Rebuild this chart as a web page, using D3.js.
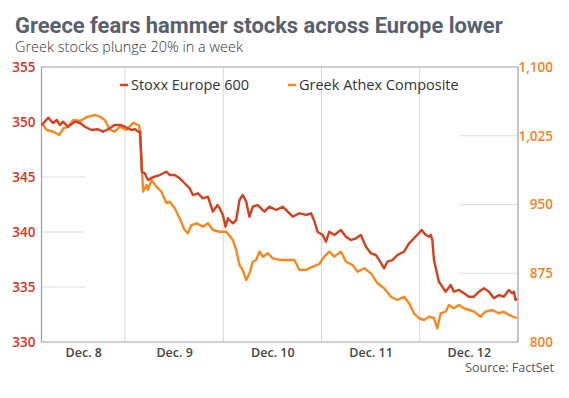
<!DOCTYPE html>
<html>
<head>
<meta charset="utf-8">
<script src="https://cdn.jsdelivr.net/npm/d3@7"></script>
<style>
  body { margin: 0; background: #fff; }
  svg { display: block; }
</style>
</head>
<body>
<div id="container"></div>
<script>
var WIDTH = 569,
	HEIGHT = 398,
	LEFT = 41.5,
	RIGHT = 518,
	TOP = 67,
	BOTTOM = 342;

// x positions are in trading-day units (Dec. 8 = 0..1, Dec. 9 = 1..2, ...)
var dayLabels = ['Dec. 8', 'Dec. 9', 'Dec. 10', 'Dec. 11', 'Dec. 12'];
var dayLabelPos = [0.575, 1.5, 2.5, 3.5, 4.5];
var dayGrid = [1, 2, 3, 4];

var stoxxTicks = [330, 335, 340, 345, 350, 355];
var athexTicks = [800, 875, 950, 1025, 1100];

var stoxxTime = [0.152, 0.219, 0.267, 0.305, 0.338, 0.369, 0.419, 0.490, 0.541, 0.592,
	0.660, 0.724, 0.775, 0.812, 0.846, 0.896, 0.947, 0.998, 1.066, 1.099,
	1.133, 1.155, 1.171, 1.201, 1.235, 1.269, 1.303, 1.354, 1.421, 1.455,
	1.506, 1.556, 1.607, 1.658, 1.691, 1.742, 1.793, 1.844, 1.894, 1.942,
	1.962, 1.996, 2.023, 2.047, 2.097, 2.132, 2.165, 2.199, 2.234, 2.267,
	2.301, 2.351, 2.419, 2.470, 2.538, 2.605, 2.656, 2.707, 2.775, 2.843,
	2.893, 2.927, 2.960, 3.011, 3.046, 3.079, 3.130, 3.198, 3.249, 3.299,
	3.350, 3.401, 3.452, 3.503, 3.553, 3.587, 3.638, 3.671, 3.722, 3.773,
	3.840, 3.891, 3.942, 4.020, 4.061, 4.094, 4.112, 4.128, 4.145, 4.195,
	4.229, 4.264, 4.315, 4.348, 4.399, 4.450, 4.501, 4.552, 4.602, 4.653,
	4.704, 4.755, 4.806, 4.856, 4.907, 4.940, 4.958, 4.975, 4.988];
var stoxxValues = [349.73, 350.39, 349.91, 350.18, 349.73, 350.03, 349.57, 350.03, 349.91, 349.57,
	349.27, 349.34, 349.12, 349.27, 349.43, 349.73, 349.73, 349.57, 349.27, 349.36,
	349.12, 349.09, 345.48, 345.34, 344.73, 344.91, 345.03, 345.18, 345.48, 345.18,
	345.18, 344.88, 344.43, 343.97, 343.36, 343.52, 343.06, 343.21, 341.85, 342.45,
	342.18, 341.55, 340.48, 341.25, 340.79, 341.09, 342.91, 343.36, 342.75, 341.39,
	342.30, 342.45, 341.85, 342.30, 342.00, 342.30, 341.85, 341.39, 341.70, 341.55,
	341.70, 341.00, 340.03, 339.73, 339.12, 340.03, 339.73, 340.18, 339.57, 339.27,
	339.43, 339.73, 338.66, 338.06, 337.91, 337.45, 336.70, 337.30, 337.45, 337.91,
	338.21, 338.97, 339.43, 340.18, 339.73, 339.57, 339.73, 339.27, 337.45, 335.48,
	335.03, 334.57, 335.18, 334.57, 334.73, 334.43, 334.12, 334.12, 334.57, 334.88,
	334.57, 333.97, 334.27, 334.12, 334.73, 334.43, 334.57, 333.82, 334.00];

var athexTime = [0.152, 0.203, 0.270, 0.331, 0.372, 0.422, 0.473, 0.541, 0.625, 0.693,
	0.744, 0.795, 0.846, 0.896, 0.947, 1.015, 1.082, 1.145, 1.168, 1.184,
	1.218, 1.234, 1.269, 1.320, 1.371, 1.421, 1.455, 1.506, 1.556, 1.607,
	1.641, 1.675, 1.726, 1.793, 1.844, 1.894, 1.962, 2.030, 2.057, 2.097,
	2.132, 2.165, 2.199, 2.234, 2.267, 2.301, 2.335, 2.368, 2.402, 2.453,
	2.504, 2.572, 2.640, 2.724, 2.775, 2.843, 2.910, 2.978, 3.028, 3.079,
	3.130, 3.198, 3.249, 3.316, 3.367, 3.435, 3.503, 3.570, 3.638, 3.706,
	3.773, 3.840, 3.891, 3.942, 3.992, 4.043, 4.094, 4.145, 4.179, 4.213,
	4.264, 4.297, 4.348, 4.399, 4.450, 4.501, 4.552, 4.619, 4.670, 4.738,
	4.806, 4.856, 4.907, 4.988];
var athexValues = [1038.6, 1031.3, 1029.4, 1025.8, 1033.1, 1034.9, 1042.2, 1041.1, 1045.8, 1047.6,
	1045.8, 1042.2, 1031.3, 1029.4, 1034.9, 1031.3, 1039.2, 1036.2, 998.5, 964.0,
	971.3, 965.8, 976.7, 969.4, 964.0, 951.6, 953.1, 945.9, 934.9, 922.2,
	918.6, 927.6, 929.5, 925.8, 929.5, 922.2, 920.3, 920.3, 916.7, 911.3,
	900.4, 884.0, 878.5, 867.5, 874.9, 887.6, 889.5, 898.5, 893.1, 896.8,
	891.3, 889.5, 889.5, 889.5, 878.5, 878.5, 882.2, 885.1, 893.1, 898.5,
	893.1, 898.5, 887.6, 884.0, 876.7, 880.4, 874.9, 864.0, 858.6, 849.4,
	845.8, 849.4, 842.2, 831.3, 825.9, 824.0, 827.6, 825.9, 814.9, 831.3,
	833.1, 840.4, 836.8, 840.4, 836.8, 834.9, 833.1, 827.6, 833.1, 834.9,
	831.3, 833.1, 829.5, 825.9];

var STOXX_COLOR = '#d2401f',
	ATHEX_COLOR = '#f7881f';

var xScale = d3.scaleLinear().domain([0.15, 5]).range([LEFT, RIGHT]);
var yLeft = d3.scaleLinear().domain([330, 355]).range([BOTTOM, TOP]);
var yRight = d3.scaleLinear().domain([800, 1100]).range([BOTTOM, TOP]);

var translate = function (x, y) {
	return 'translate(' + x + ',' + y + ')';
};

function fitText(sel, width) {
	var node = sel.node();
	var size = parseFloat(sel.attr('font-size'));
	var len = node.getComputedTextLength();
	sel.attr('font-size', (size * width / len).toFixed(2));
}

function drawTitles(svg) {
	var t = svg.append('text')
		.attr('x', 15).attr('y', 33)
		.attr('font-family', 'Roboto, sans-serif')
		.attr('font-weight', 700)
		.attr('font-size', 22)
		.attr('fill', '#58606d')
		.text('Greece fears hammer stocks across Europe lower');
	fitText(t, 488);
	var s = svg.append('text')
		.attr('x', 15).attr('y', 52)
		.attr('font-family', '"Open Sans", sans-serif')
		.attr('font-weight', 300)
		.attr('font-size', 15)
		.attr('fill', '#333')
		.text('Greek stocks plunge 20% in a week');
	fitText(s, 228);
	svg.append('text')
		.attr('x', 554).attr('y', 372)
		.attr('text-anchor', 'end')
		.attr('font-family', '"Open Sans", sans-serif')
		.attr('font-size', 12.5)
		.attr('fill', '#555')
		.text('Source: FactSet');
}

function drawGrid(svg) {
	svg.append('g').selectAll('line').data(dayGrid).enter()
		.append('line')
		.attr('x1', function (d) { return xScale(d); })
		.attr('x2', function (d) { return xScale(d); })
		.attr('y1', TOP).attr('y2', BOTTOM)
		.attr('stroke', '#d4d6da').attr('stroke-width', 1);
	svg.append('g').selectAll('line').data(stoxxTicks.slice(1, -1)).enter()
		.append('line')
		.attr('x1', LEFT).attr('x2', 85)
		.attr('y1', function (d) { return yLeft(d); })
		.attr('y2', function (d) { return yLeft(d); })
		.attr('stroke', '#dcdde0');
	svg.append('g').selectAll('line').data(athexTicks.slice(1, -1)).enter()
		.append('line')
		.attr('x1', 459).attr('x2', RIGHT)
		.attr('y1', function (d) { return yRight(d); })
		.attr('y2', function (d) { return yRight(d); })
		.attr('stroke', '#dcdde0');
	// frame
	svg.append('path')
		.attr('d', 'M' + LEFT + ',' + TOP + 'H' + RIGHT + 'V' + BOTTOM + 'H' + LEFT + 'Z')
		.attr('fill', 'none')
		.attr('stroke', '#9a9ea6')
		.attr('stroke-width', 1.2);
}

function drawAxis(svg) {
	var left = d3.axisLeft(yLeft).tickValues(stoxxTicks).tickSize(0).tickPadding(6);
	var gl = svg.append('g').attr('transform', translate(LEFT, 0)).call(left);
	var right = d3.axisRight(yRight).tickValues(athexTicks).tickSize(0).tickPadding(35)
		.tickFormat(d3.format(','));
	var gr = svg.append('g').attr('transform', translate(RIGHT, 0)).call(right);
	gr.selectAll('text').attr('text-anchor', 'end');
	var bottom = d3.axisBottom(xScale).tickValues(dayLabelPos).tickSize(0).tickPadding(6)
		.tickFormat(function (d, i) { return dayLabels[i]; });
	var gb = svg.append('g').attr('transform', translate(0, BOTTOM)).call(bottom);

	[gl, gr, gb].forEach(function (g) {
		g.select('.domain').remove();
		g.selectAll('text')
			.attr('font-family', '"Open Sans", sans-serif')
			.attr('font-weight', 600)
			.attr('font-size', 13.5);
	});
	gl.selectAll('text').attr('fill', '#d9321c');
	gr.selectAll('text').attr('fill', '#f5821f');
	gb.selectAll('text').attr('fill', '#444').attr('font-size', 12.5);
}

function drawLines(svg) {
	var stoxx = stoxxTime.map(function (t, i) { return [t, stoxxValues[i]]; });
	var athex = athexTime.map(function (t, i) { return [t, athexValues[i]]; });
	var line = function (yScale) {
		return d3.line()
			.x(function (d) { return xScale(d[0]); })
			.y(function (d) { return yScale(d[1]); });
	};
	svg.append('path')
		.attr('d', line(yRight)(athex))
		.attr('fill', 'none')
		.attr('stroke', ATHEX_COLOR)
		.attr('stroke-width', 2.4)
		.attr('stroke-linejoin', 'round');
	svg.append('path')
		.attr('d', line(yLeft)(stoxx))
		.attr('fill', 'none')
		.attr('stroke', STOXX_COLOR)
		.attr('stroke-width', 2.4)
		.attr('stroke-linejoin', 'round');
}

function drawLegend(svg) {
	var items = [
		{ name: 'Stoxx Europe 600', color: STOXX_COLOR, x: 120 },
		{ name: 'Greek Athex Composite', color: ATHEX_COLOR, x: 288 }
	];
	var g = svg.append('g').selectAll('g').data(items).enter()
		.append('g')
		.attr('transform', function (d) { return translate(d.x, 85); });
	g.append('line')
		.attr('x1', 0).attr('x2', 8)
		.attr('stroke', function (d) { return d.color; })
		.attr('stroke-width', 2.5);
	g.append('text')
		.attr('x', 11).attr('dy', '0.35em')
		.attr('font-family', '"Open Sans", sans-serif')
		.attr('font-size', 14.5)
		.attr('fill', '#333')
		.text(function (d) { return d.name; });
}

function visualize() {
	var svg = d3.select('#container')
		.append('svg')
		.attr('width', WIDTH)
		.attr('height', HEIGHT);
	drawTitles(svg);
	drawGrid(svg);
	drawAxis(svg);
	drawLines(svg);
	drawLegend(svg);
}

window.onload = visualize;
</script>
</body>
</html>
